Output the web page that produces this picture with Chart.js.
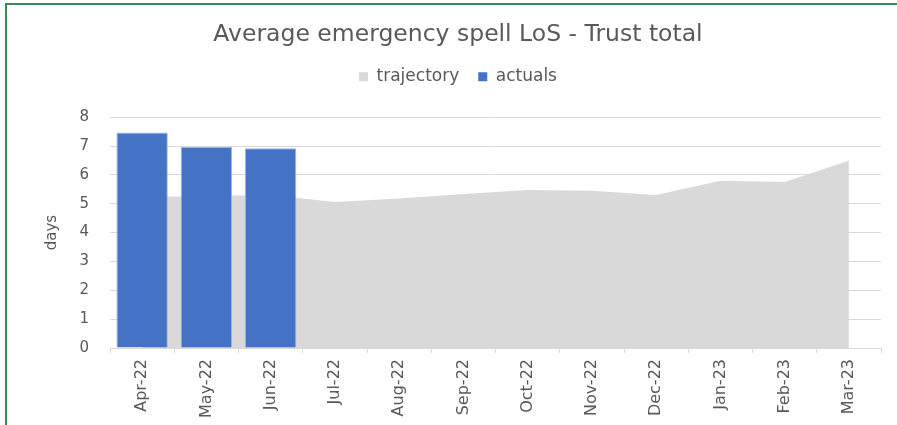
<!DOCTYPE html>
<html>
<head>
<meta charset="utf-8">
<script src="https://cdn.jsdelivr.net/npm/chart.js@4"></script>
<style>
  html, body { margin: 0; padding: 0; background: #ffffff; overflow: hidden; }
  #wrap { position: relative; width: 897px; height: 425px; }
  #chart { position: absolute; left: 35px; top: 0; }
  #frame {
    position: absolute; left: 5px; top: 3px; right: -4px; bottom: -4px;
    border-top: 2px solid #3b8a5c; border-left: 2px solid #3b8a5c;
    pointer-events: none;
  }
</style>
</head>
<body>
<div id="wrap">
  <canvas id="chart" width="862" height="425"></canvas>
  <div id="frame"></div>
</div>
<script>
// Months of the 2022/23 financial year
const months = ['Apr-22', 'May-22', 'Jun-22', 'Jul-22', 'Aug-22', 'Sep-22',
                'Oct-22', 'Nov-22', 'Dec-22', 'Jan-23', 'Feb-23', 'Mar-23'];
// Planned average length of stay (days)
const trajectory = [5.23, 5.27, 5.30, 5.06, 5.18, 5.34, 5.48, 5.45, 5.30, 5.80, 5.75, 6.49];
// Reported average length of stay (days), first quarter only
const actuals = [7.47, 6.97, 6.92, null, null, null, null, null, null, null, null, null];
// Value axis ticks
const yTicks = [0, 1, 2, 3, 4, 5, 6, 7, 8];

const labelGrey = '#595959';
const gridGrey = '#d9d9d9';
const baseFont = 'DejaVu Sans, sans-serif';

// Leaves a gap between the legend row and the plot area
const legendGap = {
  id: 'legendGap',
  beforeUpdate(chart) {
    const legend = chart.legend;
    if (!legend || legend._gapPatched) return;
    const fit = legend.fit;
    legend.fit = function () {
      fit.call(this);
      this.height += 22;
    };
    legend._gapPatched = true;
  }
};

new Chart(document.getElementById('chart'), {
  type: 'bar',
  data: {
    labels: months,
    datasets: [
      {
        type: 'line',
        label: 'trajectory',
        data: trajectory,
        fill: 'origin',
        backgroundColor: gridGrey,
        borderWidth: 0,
        borderColor: 'rgba(0,0,0,0)',
        pointRadius: 0,
        tension: 0,
        order: 2
      },
      {
        type: 'bar',
        label: 'actuals',
        data: actuals,
        backgroundColor: '#4472c4',
        borderColor: '#9fb6e0',
        borderWidth: 1,
        barPercentage: 0.8,
        categoryPercentage: 1.0,
        order: 1
      }
    ]
  },
  options: {
    responsive: false,
    animation: false,
    layout: { padding: { left: 0, right: 16, top: 0, bottom: 7 } },
    plugins: {
      tooltip: { enabled: false },
      title: {
        display: true,
        text: 'Average emergency spell LoS - Trust total',
        color: labelGrey,
        font: { family: baseFont, size: 23.5, weight: 'normal', lineHeight: 1.2 },
        padding: { top: 21, bottom: 0 }
      },
      legend: {
        display: true,
        labels: {
          color: labelGrey,
          font: { family: baseFont, size: 17 },
          boxWidth: 9,
          boxHeight: 9,
          padding: 19,
          generateLabels(chart) {
            return chart.data.datasets.map((ds, i) => ({
              text: ds.label,
              fillStyle: ds.backgroundColor,
              strokeStyle: ds.backgroundColor,
              fontColor: labelGrey,
              lineWidth: 0,
              datasetIndex: i,
              hidden: false
            }));
          }
        }
      }
    },
    scales: {
      x: {
        offset: true,
        grid: {
          offset: true,
          drawOnChartArea: false,
          drawTicks: true,
          tickLength: 5,
          color: gridGrey
        },
        border: { display: true, color: gridGrey },
        ticks: {
          color: labelGrey,
          font: { family: baseFont, size: 16 },
          minRotation: 90,
          maxRotation: 90,
          padding: 6,
          autoSkip: false
        },
        afterFit(scale) { scale.height = 70; }
      },
      y: {
        min: 0,
        max: 8,
        afterBuildTicks(scale) { scale.ticks = yTicks.map(v => ({ value: v })); },
        grid: { color: gridGrey, drawTicks: false },
        border: { display: false },
        ticks: {
          color: labelGrey,
          font: { family: baseFont, size: 15 },
          padding: 21
        },
        title: {
          display: true,
          text: 'days',
          color: labelGrey,
          font: { family: baseFont, size: 15 },
          padding: { top: 8, bottom: 0 }
        },
        afterFit(scale) { scale.width = 75; }
      }
    }
  },
  plugins: [legendGap]
});
</script>
</body>
</html>
